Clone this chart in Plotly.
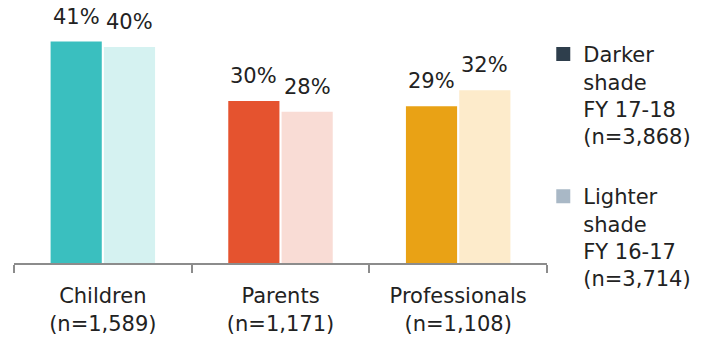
import plotly.graph_objects as go

# Survey groups and their sample sizes
categories = ["Children", "Parents", "Professionals"]
sample_sizes = ["1,589", "1,171", "1,108"]

# Percentage per group for each financial year
fy_17_18 = [41, 30, 29]
fy_16_17 = [40, 28, 32]

# Series names shown in the legend
series_names = [
    "Darker<br>shade<br>FY 17-18<br>(n=3,868)",
    "Lighter<br>shade<br>FY 16-17<br>(n=3,714)",
]

# Per-group colours: strong shade for FY 17-18, pale shade for FY 16-17
dark_colors = ["#3ABFBF", "#E5532F", "#E9A215"]
light_colors = ["#D5F2F1", "#F9DCD5", "#FDEBCB"]
legend_colors = ["#2E3E4C", "#A9B8C6"]

FONT = "DejaVu Sans"
FONT_SIZE = 21
TEXT_COLOR = "#222222"
AXIS_COLOR = "#8C8C8C"

tick_text = [f"{c}<br>(n={n})" for c, n in zip(categories, sample_sizes)]

fig = go.Figure()

fig.add_trace(go.Bar(
    x=categories, y=fy_17_18, marker=dict(color=dark_colors, line=dict(width=0)),
    showlegend=False, hoverinfo="x+y",
))
fig.add_trace(go.Bar(
    x=categories, y=fy_16_17, marker=dict(color=light_colors, line=dict(width=0)),
    showlegend=False, hoverinfo="x+y",
))

# Legend swatches (one per financial year)
for name, color in zip(series_names, legend_colors):
    fig.add_trace(go.Scatter(
        x=[None], y=[None], mode="markers", name=name, legendgroup=name,
        marker=dict(symbol="square", size=14, color=color),
    ))

# Value labels above each bar
BAR_OFFSET = 26.6
for values, shift in ((fy_17_18, -BAR_OFFSET), (fy_16_17, BAR_OFFSET)):
    for cat, v in zip(categories, values):
        fig.add_annotation(
            x=cat, y=v, text=f"{v}%", showarrow=False,
            xref="x", yref="y", xanchor="center", yanchor="bottom",
            xshift=shift, yshift=11,
            font=dict(family=FONT, size=FONT_SIZE, color=TEXT_COLOR),
        )

fig.update_layout(
    width=708, height=337,
    margin=dict(l=14, r=161, t=14, b=74, autoexpand=False),
    paper_bgcolor="white", plot_bgcolor="white",
    barmode="group", bargap=0.40, bargroupgap=0.04,
    font=dict(family=FONT, size=FONT_SIZE, color=TEXT_COLOR),
    showlegend=True,
    legend=dict(
        x=0.993, xanchor="left",
        y=0.92, yanchor="top",
        valign="top", tracegroupgap=30, traceorder="grouped",
        maxheight=320,
        font=dict(family=FONT, size=FONT_SIZE, color=TEXT_COLOR),
        bgcolor="rgba(0,0,0,0)", itemsizing="trace",
    ),
    xaxis=dict(
        tickmode="array", tickvals=categories, ticktext=tick_text,
        showline=True, linecolor=AXIS_COLOR, linewidth=2,
        ticks="outside", tickson="boundaries", ticklen=8, tickwidth=2,
        tickcolor=AXIS_COLOR, showgrid=False, zeroline=False,
        ticklabelstandoff=13, automargin=False,
        tickfont=dict(family=FONT, size=FONT_SIZE, color=TEXT_COLOR),
        fixedrange=True,
    ),
    yaxis=dict(visible=False, range=[0, 46.1], showgrid=False, zeroline=False,
               automargin=False, fixedrange=True),
)

fig.write_html("out.html")
